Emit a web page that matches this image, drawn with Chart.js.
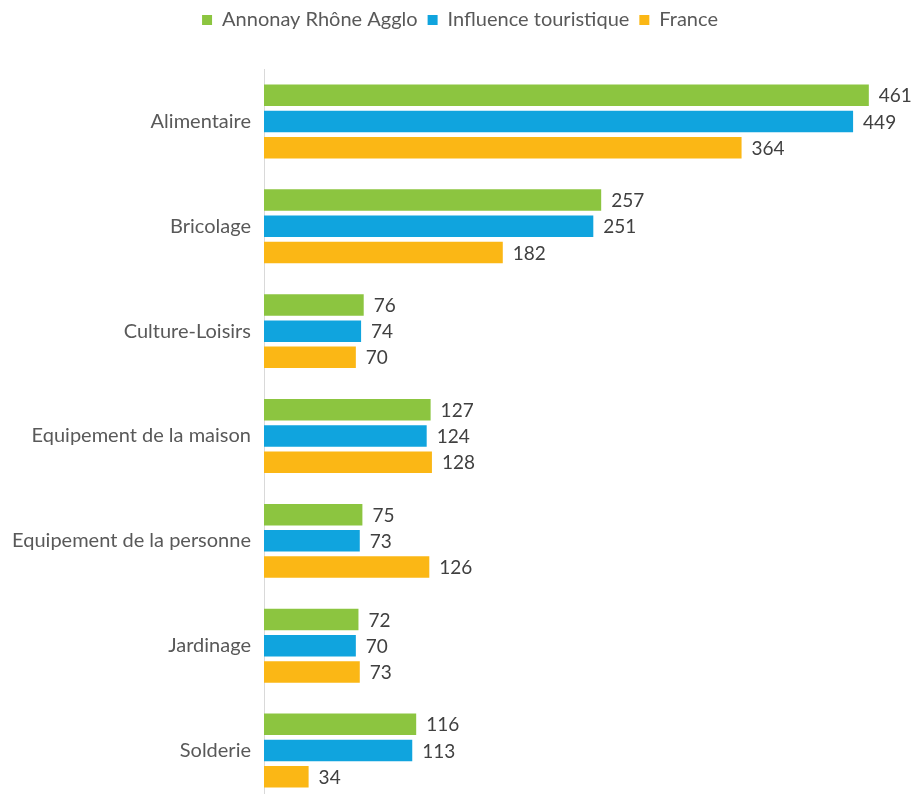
<!DOCTYPE html>
<html>
<head>
<meta charset="utf-8">
<script src="https://cdn.jsdelivr.net/npm/chart.js@4/dist/chart.umd.min.js"></script>
<style>
html,body{margin:0;padding:0;background:#fff;overflow:hidden;}
canvas{display:block;}
</style>
</head>
<body>
<canvas id="c" width="920" height="803"></canvas>
<script>
const categories = ["Alimentaire","Bricolage","Culture-Loisirs","Equipement de la maison","Equipement de la personne","Jardinage","Solderie"];
const seriesNames = ["Annonay Rhône Agglo","Influence touristique","France"];
const annonay = [461,257,76,127,75,72,116];
const influence = [449,251,74,124,73,70,113];
const france = [364,182,70,128,126,73,34];
const colors = ["#8cc540","#10a4de","#fbb715"];

const FONT = "Lato, 'Open Sans', sans-serif";
const CHART_TOP = 69;

const valueLabels = {
  id: 'valueLabels',
  afterDatasetsDraw(chart) {
    const ctx = chart.ctx;
    ctx.save();
    ctx.font = "19px " + FONT;
    ctx.fillStyle = "#404040";
    ctx.textAlign = "left";
    ctx.textBaseline = "middle";
    chart.data.datasets.forEach((ds, i) => {
      const meta = chart.getDatasetMeta(i);
      meta.data.forEach((bar, j) => {
        ctx.fillText(String(ds.data[j]), bar.x + 10, bar.y + 1);
      });
    });
    ctx.restore();
  }
};

const legendSpacer = {
  id: 'legendSpacer',
  beforeInit(chart) {
    const lg = chart.legend;
    if (!lg) return;
    const orig = lg.fit;
    lg.fit = function() {
      orig.call(this);
      this.height = CHART_TOP;
    };
  }
};

new Chart(document.getElementById('c'), {
  type: 'bar',
  data: {
    labels: categories,
    datasets: [
      {label: seriesNames[0], data: annonay, backgroundColor: colors[0]},
      {label: seriesNames[1], data: influence, backgroundColor: colors[1]},
      {label: seriesNames[2], data: france, backgroundColor: colors[2]}
    ]
  },
  options: {
    indexAxis: 'y',
    responsive: false,
    maintainAspectRatio: false,
    animation: false,
    categoryPercentage: 0.75,
    barPercentage: 0.82,
    layout: {padding: 0},
    plugins: {
      legend: {
        position: 'top',
        labels: {
          boxWidth: 10, boxHeight: 10, padding: 10,
          color: '#595959',
          font: {family: FONT, size: 20}
        }
      },
      tooltip: {enabled: false}
    },
    scales: {
      x: {display: false, min: 0, max: 500},
      y: {
        grid: {display: false, drawTicks: false},
        border: {display: true, color: '#d9d9d9', width: 1},
        ticks: {color: '#595959', font: {family: FONT, size: 20}, padding: 13},
        afterFit(scale) {
          scale.width = 264;
          scale.paddingTop = 0;
          scale.paddingBottom = 0;
        }
      }
    }
  },
  plugins: [valueLabels, legendSpacer]
});
</script>
</body>
</html>
